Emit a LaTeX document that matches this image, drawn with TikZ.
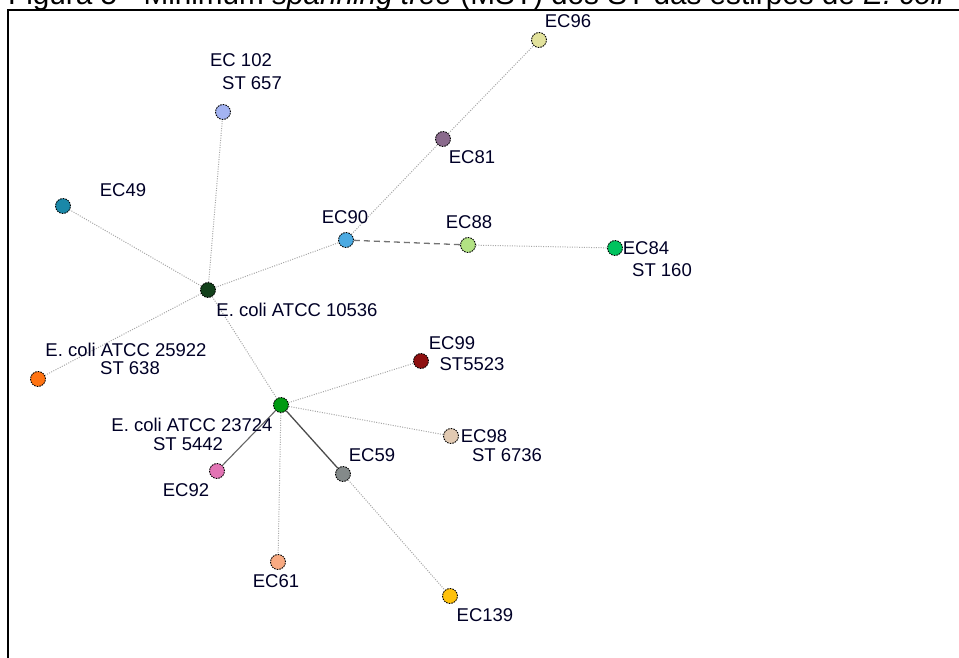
\documentclass[tikz,border=0pt]{standalone}
\usepackage{fontspec}
\setmainfont{Liberation Sans}
\definecolor{cEC96}{HTML}{E2E29C}
\definecolor{cEC102}{HTML}{A3B3F2}
\definecolor{cEC81}{HTML}{8A6A8C}
\definecolor{cEC49}{HTML}{1A88A8}
\definecolor{cEC90}{HTML}{4BAAE2}
\definecolor{cEC88}{HTML}{B2E283}
\definecolor{cEC84}{HTML}{00C35E}
\definecolor{cA10536}{HTML}{12401A}
\definecolor{cEC99}{HTML}{8E1010}
\definecolor{cA25922}{HTML}{FF7312}
\definecolor{cA23724}{HTML}{009A12}
\definecolor{cEC98}{HTML}{E2CAB2}
\definecolor{cEC92}{HTML}{E274B4}
\definecolor{cEC59}{HTML}{848A8A}
\definecolor{cEC61}{HTML}{F8AA82}
\definecolor{cEC139}{HTML}{FFC10A}
\tikzset{
  st/.style={circle, minimum size=15pt, inner sep=0pt, draw=black, line width=0.9pt, dash pattern=on 1.6pt off 1pt},
  lab/.style={inner sep=0pt, text height=13pt, text depth=0pt, font=\fontsize{18.5}{20}\selectfont, text=black!85!blue},
  dotedge/.style={draw=black!35, line width=1pt, dash pattern=on 1pt off 1.4pt},
  dashedge/.style={draw=black!55, line width=1.3pt, dash pattern=on 6pt off 4pt},
  solidedge/.style={draw=black!60, line width=1.1pt},
  darkedge/.style={draw=black!70, line width=1.3pt}
}
\begin{document}
\begin{tikzpicture}[x=1pt,y=-1pt]
\useasboundingbox (0,0) rectangle (959,658);
\begin{scope}
\clip (0,0) rectangle (959,658);
\node[anchor=base west, inner sep=0pt, font=\fontsize{29.7}{32}\selectfont] (title) at (8,5) {Figura 5 - Minimum \textit{spanning tree} (MST) dos ST das estirpes de \textit{E. coli}};
\end{scope}
\draw[line width=2pt] (8,659) -- (8,10) -- (960,10);

% strains
\node[st, fill=cEC96] (n96) at (539,40) {};
\node[st, fill=cEC102] (n102) at (223,112) {};
\node[st, fill=cEC81] (n81) at (443,139) {};
\node[st, fill=cEC49] (n49) at (63,206) {};
\node[st, fill=cEC90] (n90) at (346,240) {};
\node[st, fill=cEC88] (n88) at (468,245) {};
\node[st, fill=cEC84] (n84) at (615,248) {};
\node[st, fill=cA10536] (a10536) at (208,290) {};
\node[st, fill=cEC99] (n99) at (421,361) {};
\node[st, fill=cA25922] (a25922) at (38,379) {};
\node[st, fill=cA23724] (a23724) at (281,405) {};
\node[st, fill=cEC98] (n98) at (451,436) {};
\node[st, fill=cEC92] (n92) at (217,471) {};
\node[st, fill=cEC59] (n59) at (343,474) {};
\node[st, fill=cEC61] (n61) at (278,562) {};
\node[st, fill=cEC139] (n139) at (450,596) {};

% connectors
\draw[dotedge] (a10536) -- (n102);
\draw[dotedge] (a10536) -- (n49);
\draw[dotedge] (a10536) -- (n90);
\draw[dotedge] (a10536) -- (a25922);
\draw[dotedge] (a10536) -- (a23724);
\draw[dotedge] (n90) -- (n81);
\draw[dotedge] (n81) -- (n96);
\draw[dashedge] (n90) -- (n88);
\draw[dotedge] (n88) -- (n84);
\draw[dotedge] (a23724) -- (n99);
\draw[dotedge] (a23724) -- (n98);
\draw[solidedge] (a23724) -- (n92);
\draw[darkedge] (a23724) -- (n59);
\draw[dotedge] (a23724) -- (n61);
\draw[dotedge] (n59) -- (n139);

% labels
\node[lab] (l96) at (568,21) {EC96};
\node[lab] (l102a) at (241,60) {EC 102};
\node[lab] (l102b) at (252,83) {ST 657};
\node[lab] (l81) at (472,157) {EC81};
\node[lab] (l49) at (123,190) {EC49};
\node[lab] (l90) at (345,217) {EC90};
\node[lab] (l88) at (469,222) {EC88};
\node[lab] (l84a) at (646,248) {EC84};
\node[lab] (l84b) at (662,270) {ST 160};
\node[lab] (l10536) at (297,310) {E. coli ATCC 10536};
\node[lab] (l25922a) at (126,350) {E. coli ATCC 25922};
\node[lab] (l25922b) at (130,368) {ST 638};
\node[lab] (l99a) at (452,343) {EC99};
\node[lab] (l99b) at (472,364) {ST5523};
\node[lab] (l23724a) at (192,425) {E. coli ATCC 23724};
\node[lab] (l23724b) at (188,444) {ST 5442};
\node[lab] (l98a) at (484,436) {EC98};
\node[lab] (l98b) at (507,455) {ST 6736};
\node[lab] (l92) at (186,490) {EC92};
\node[lab] (l59) at (372,455) {EC59};
\node[lab] (l61) at (276,581) {EC61};
\node[lab] (l139) at (485,615) {EC139};
\end{tikzpicture}
\end{document}
